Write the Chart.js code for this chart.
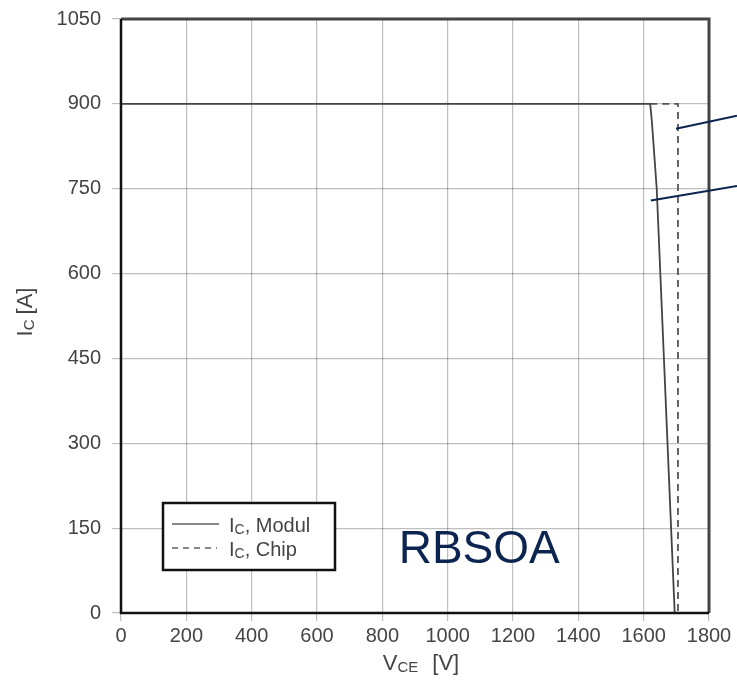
<!DOCTYPE html>
<html>
<head>
<meta charset="utf-8">
<script src="https://cdn.jsdelivr.net/npm/chart.js@4"></script>
<style>
  html, body { margin: 0; padding: 0; background: #fff; }
  #wrap { width: 737px; height: 680px; }
</style>
</head>
<body>
<div id="wrap"><canvas id="rbsoaChart" width="737" height="680"></canvas></div>
<script>
// tick labels
const xTicks = [0, 200, 400, 600, 800, 1000, 1200, 1400, 1600, 1800];
const yTicks = [0, 150, 300, 450, 600, 750, 900, 1050];

// I_C, Modul (solid)
const modulV = [0, 1620, 1625, 1640, 1695];
const modulI = [900, 900, 870, 750, 0];

// I_C, Chip (dashed)
const chipV = [1620, 1705, 1705];
const chipI = [900, 900, 0];

// leader lines: [V, I] of the point on the curve, I at right edge
const leaders = [
    { v: 1699, i: 856, iEnd: 879 },
    { v: 1622, i: 729, iEnd: 755 }
];

const FONT = '"Liberation Sans", Arial, sans-serif';
const TXT = '#444';

function toPoints(xs, ys) {
    return xs.map((x, k) => ({ x: x, y: ys[k] }));
}

// draw text pieces with subscripts, returns end x
function drawParts(c, parts, x, y) {
    parts.forEach(p => {
        c.font = p.size + 'px ' + FONT;
        c.fillText(p.t, x, y + (p.dy || 0));
        x += c.measureText(p.t).width + (p.gap || 0);
    });
    return x;
}
function partsWidth(c, parts) {
    let w = 0;
    parts.forEach(p => {
        c.font = p.size + 'px ' + FONT;
        w += c.measureText(p.t).width + (p.gap || 0);
    });
    return w;
}

const extras = {
    id: 'extras',
    afterDraw(chart) {
        const c = chart.ctx;
        const a = chart.chartArea;
        const xs = chart.scales.x, ys = chart.scales.y;
        c.save();

        // frame
        c.strokeStyle = '#444';
        c.lineWidth = 3;
        c.beginPath();
        c.moveTo(a.left, a.top); c.lineTo(a.right, a.top); c.lineTo(a.right, a.bottom);
        c.stroke();
        c.strokeStyle = '#111';
        c.lineWidth = 2.5;
        c.beginPath();
        c.moveTo(a.left, a.top); c.lineTo(a.left, a.bottom); c.lineTo(a.right, a.bottom);
        c.stroke();

        // leader lines
        c.strokeStyle = '#0b2550';
        c.lineWidth = 2;
        leaders.forEach(l => {
            c.beginPath();
            c.moveTo(xs.getPixelForValue(l.v), ys.getPixelForValue(l.i));
            c.lineTo(chart.width, ys.getPixelForValue(l.iEnd));
            c.stroke();
        });

        // legend box
        const lx = a.left + 42, ly = a.bottom - 110, lw = 172, lh = 67;
        c.fillStyle = '#fff';
        c.fillRect(lx, ly, lw, lh);
        c.strokeStyle = '#111';
        c.lineWidth = 2.5;
        c.strokeRect(lx, ly, lw, lh);
        c.strokeStyle = '#888';
        c.lineWidth = 2;
        c.beginPath();
        c.moveTo(lx + 9, ly + 21); c.lineTo(lx + 56, ly + 21);
        c.stroke();
        c.setLineDash([6, 5]);
        c.beginPath();
        c.moveTo(lx + 9, ly + 45); c.lineTo(lx + 54, ly + 45);
        c.stroke();
        c.setLineDash([]);
        c.fillStyle = TXT;
        c.textBaseline = 'alphabetic';
        c.textAlign = 'left';
        drawParts(c, [{ t: 'I', size: 20 }, { t: 'C', size: 14, dy: 2 }, { t: ', Modul', size: 20 }], lx + 66, ly + 29);
        drawParts(c, [{ t: 'I', size: 20 }, { t: 'C', size: 14, dy: 2 }, { t: ', Chip', size: 20 }], lx + 66, ly + 53);

        // RBSOA label
        c.fillStyle = '#0b2550';
        c.font = '46px ' + FONT;
        c.fillText('RBSOA', xs.getPixelForValue(850), ys.getPixelForValue(88));

        // x axis title
        c.fillStyle = TXT;
        const xt = [{ t: 'V', size: 22 }, { t: 'CE', size: 15, dy: 2, gap: 14 }, { t: '[V]', size: 22 }];
        const xw = partsWidth(c, xt);
        drawParts(c, xt, (a.left + a.right) / 2 - xw / 2 + 6, a.bottom + 57);

        // y axis title
        const yt = [{ t: 'I', size: 22 }, { t: 'C', size: 15, dy: 2, gap: 5 }, { t: '[A]', size: 22 }];
        const yw = partsWidth(c, yt);
        c.translate(32, (a.top + a.bottom) / 2);
        c.rotate(-Math.PI / 2);
        drawParts(c, yt, -yw / 2 + 4, 0);

        c.restore();
    }
};

new Chart(document.getElementById('rbsoaChart'), {
    type: 'scatter',
    data: {
        datasets: [{
            label: 'IC, Modul',
            data: toPoints(modulV, modulI),
            showLine: true,
            borderColor: '#444',
            borderWidth: 1.8,
            pointRadius: 0,
            tension: 0
        }, {
            label: 'IC, Chip',
            data: toPoints(chipV, chipI),
            showLine: true,
            borderColor: '#555',
            borderWidth: 1.8,
            borderDash: [7, 5],
            pointRadius: 0,
            tension: 0
        }]
    },
    options: {
        responsive: false,
        animation: false,
        layout: { padding: { top: 19, right: 28, left: 0, bottom: 0 } },
        plugins: {
            legend: { display: false },
            tooltip: { enabled: false }
        },
        scales: {
            x: {
                type: 'linear',
                min: 0,
                max: 1800,
                afterBuildTicks: s => { s.ticks = xTicks.map(v => ({ value: v })); },
                afterFit: s => { s.height = 67; s.paddingLeft = 0; s.paddingRight = 0; },
                grid: { color: 'rgba(0,0,0,0.25)', lineWidth: 1.2, tickLength: 8, drawTicks: true },
                border: { display: false },
                ticks: {
                    color: TXT,
                    font: { family: FONT, size: 20 },
                    padding: 3,
                    maxRotation: 0,
                    autoSkip: false,
                    callback: v => String(v)
                }
            },
            y: {
                type: 'linear',
                min: 0,
                max: 1050,
                afterBuildTicks: s => { s.ticks = yTicks.map(v => ({ value: v })); },
                afterFit: s => { s.width = 121; s.paddingTop = 0; s.paddingBottom = 0; },
                grid: { color: 'rgba(0,0,0,0.25)', lineWidth: 1.2, tickLength: 9, drawTicks: true },
                border: { display: false },
                ticks: {
                    color: TXT,
                    font: { family: FONT, size: 20 },
                    padding: 11,
                    autoSkip: false,
                    callback: v => String(v)
                }
            }
        }
    },
    plugins: [extras]
});
</script>
</body>
</html>
